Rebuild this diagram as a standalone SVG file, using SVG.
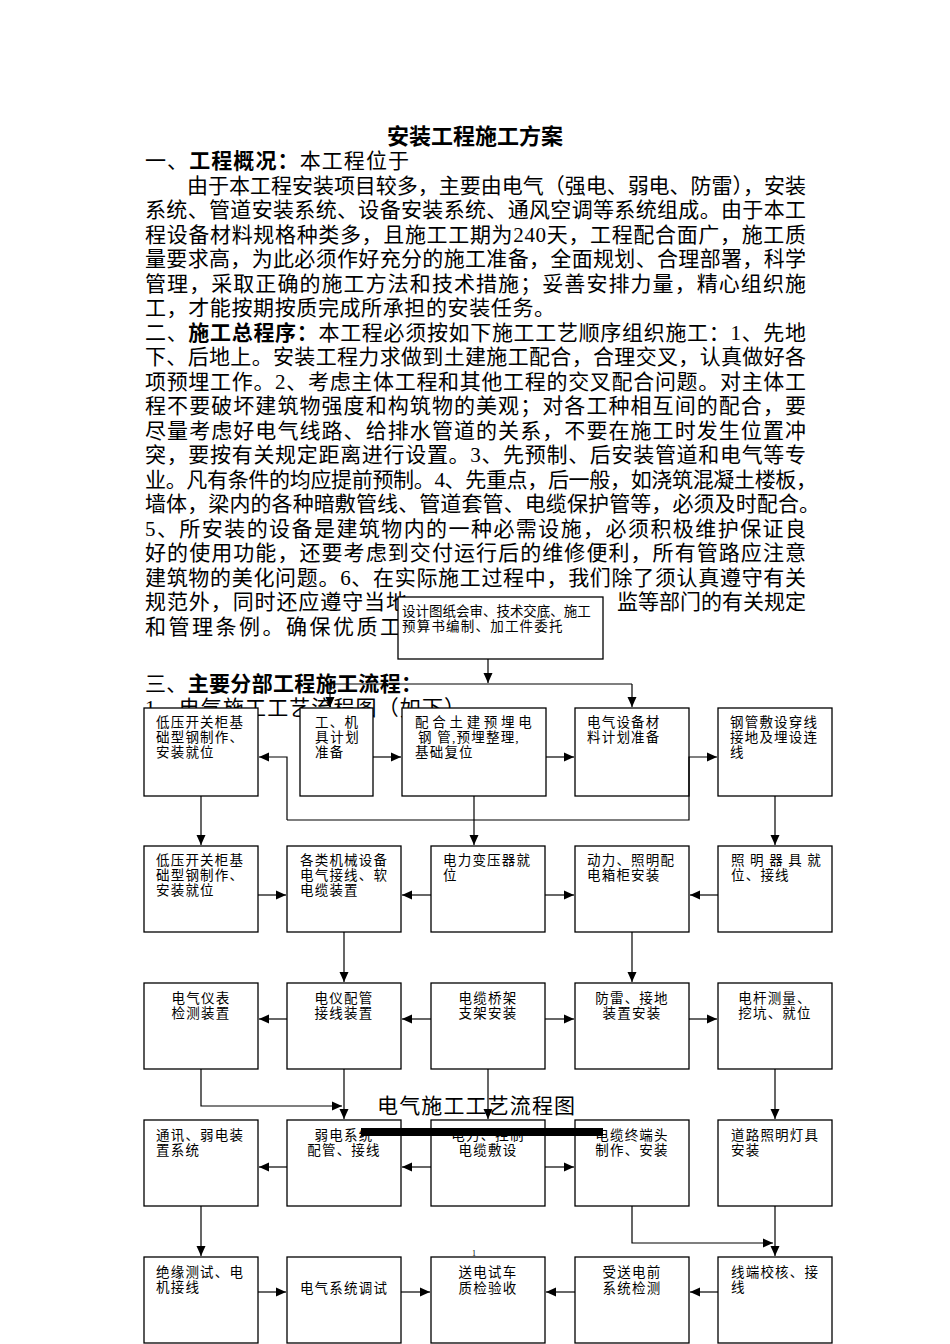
<svg xmlns="http://www.w3.org/2000/svg" width="950" height="1344" viewBox="0 0 950 1344">
<defs>
<style>
.body{font-family:"Liberation Serif","Noto Sans CJK SC",serif;font-size:21px;fill:#000}
.b{font-weight:bold}
.bx{fill:#fff;stroke:#000;stroke-width:1.3}
.t{font-family:"Liberation Serif","Noto Sans CJK SC",serif;font-size:13.5px;fill:#000;letter-spacing:1.2px}
.c{text-anchor:middle}
.ln{fill:none;stroke:#000;stroke-width:1.2}
</style>
<marker id="ah" markerUnits="userSpaceOnUse" markerWidth="10" markerHeight="10" viewBox="0 0 10 10" refX="10" refY="5" orient="auto">
<path d="M0,0.5 L10,5 L0,9.5 Z" fill="#000"/>
</marker>
</defs>
<rect width="950" height="1344" fill="#fff"/>

<g id="body-text" class="body">
<text x="475" y="144" text-anchor="middle" class="b" font-size="22">安装工程施工方案</text>
<text x="145" y="168" textLength="264">一、<tspan class="b">工程概况：</tspan>本工程位于</text>
<text x="187" y="193" textLength="619">由于本工程安装项目较多，主要由电气（强电、弱电、防雷），安装</text>
<text x="145" y="217" textLength="661">系统、管道安装系统、设备安装系统、通风空调等系统组成。由于本工</text>
<text x="145" y="242" textLength="661">程设备材料规格种类多，且施工工期为240天，工程配合面广，施工质</text>
<text x="145" y="266" textLength="661">量要求高，为此必须作好充分的施工准备，全面规划、合理部署，科学</text>
<text x="145" y="291" textLength="661">管理，采取正确的施工方法和技术措施；妥善安排力量，精心组织施</text>
<text x="145" y="315" textLength="410">工，才能按期按质完成所承担的安装任务。</text>
<text x="145" y="340" textLength="661">二、<tspan class="b">施工总程序：</tspan>本工程必须按如下施工工艺顺序组织施工：1、先地</text>
<text x="145" y="364" textLength="661">下、后地上。安装工程力求做到土建施工配合，合理交叉，认真做好各</text>
<text x="145" y="389" textLength="661">项预埋工作。2、考虑主体工程和其他工程的交叉配合问题。对主体工</text>
<text x="145" y="413" textLength="661">程不要破坏建筑物强度和构筑物的美观；对各工种相互间的配合，要</text>
<text x="145" y="438" textLength="661">尽量考虑好电气线路、给排水管道的关系，不要在施工时发生位置冲</text>
<text x="145" y="462" textLength="661">突，要按有关规定距离进行设置。3、先预制、后安装管道和电气等专</text>
<text x="145" y="487" textLength="672">业。凡有条件的均应提前预制。4、先重点，后一般，如浇筑混凝土楼板，</text>
<text x="145" y="511" textLength="675">墙体，梁内的各种暗敷管线、管道套管、电缆保护管等，必须及时配合。</text>
<text x="145" y="536" textLength="661">5、所安装的设备是建筑物内的一种必需设施，必须积极维护保证良</text>
<text x="145" y="560" textLength="661">好的使用功能，还要考虑到交付运行后的维修便利，所有管路应注意</text>
<text x="145" y="585" textLength="661">建筑物的美化问题。6、在实际施工过程中，我们除了须认真遵守有关</text>
<text x="145" y="609" textLength="262">规范外，同时还应遵守当地</text>
<text x="806" y="609" text-anchor="end">监等部门的有关规定</text>
<text x="145" y="634" textLength="256">和管理条例。确保优质工</text>
<text x="145" y="691" textLength="277">三、<tspan class="b">主要分部工程施工流程：</tspan></text>
<text x="145" y="715" textLength="320">1、电气施工工艺流程图（如下）</text>
</g>

<g id="n-top"><rect class="bx" x="398" y="597" width="205" height="62"/>
<text class="t" x="402" y="616" letter-spacing="0" font-size="13" textLength="190">设计图纸会审、技术交底、施工</text>
<text class="t" x="402" y="631" letter-spacing="0" font-size="13">预算书编制、加工件委托</text></g>

<!-- row 1 -->
<g id="n-a1"><rect class="bx" x="144" y="708" width="114" height="88"/>
<text class="t" x="156" y="727">低压开关柜基</text><text class="t" x="156" y="742">础型钢制作、</text><text class="t" x="156" y="757">安装就位</text></g>
<g id="n-a2"><rect class="bx" x="300" y="708" width="73" height="88"/>
<text class="t" x="315" y="727">工、机</text><text class="t" x="315" y="742" textLength="45">具计划</text><text class="t" x="315" y="757">准备</text></g>
<g id="n-a3"><rect class="bx" x="402" y="708" width="144" height="88"/>
<text class="t" x="415" y="727" textLength="118">配合土建预埋电</text><text class="t" x="418" y="742" letter-spacing="0">钢 管,预埋整理,</text><text class="t" x="415" y="757">基础复位</text></g>
<g id="n-a4"><rect class="bx" x="575" y="708" width="114" height="88"/>
<text class="t" x="587" y="727">电气设备材</text><text class="t" x="587" y="742">料计划准备</text></g>
<g id="n-a5"><rect class="bx" x="718" y="708" width="114" height="88"/>
<text class="t" x="730" y="727">钢管敷设穿线</text><text class="t" x="730" y="742">接地及埋设连</text><text class="t" x="730" y="757">线</text></g>

<!-- row 2 -->
<g id="n-b1"><rect class="bx" x="144" y="846" width="114" height="86"/>
<text class="t" x="156" y="865">低压开关柜基</text><text class="t" x="156" y="880">础型钢制作、</text><text class="t" x="156" y="895">安装就位</text></g>
<g id="n-b2"><rect class="bx" x="287" y="846" width="114" height="86"/>
<text class="t" x="300" y="865">各类机械设备</text><text class="t" x="300" y="880">电气接线、软</text><text class="t" x="300" y="895">电缆装置</text></g>
<g id="n-b3"><rect class="bx" x="431" y="846" width="114" height="86"/>
<text class="t" x="443" y="865">电力变压器就</text><text class="t" x="443" y="880">位</text></g>
<g id="n-b4"><rect class="bx" x="575" y="846" width="114" height="86"/>
<text class="t" x="587" y="865">动力、照明配</text><text class="t" x="587" y="880">电箱柜安装</text></g>
<g id="n-b5"><rect class="bx" x="718" y="846" width="114" height="86"/>
<text class="t" x="731" y="865" textLength="91">照明器具就</text><text class="t" x="731" y="880">位、接线</text></g>

<!-- row 3 -->
<g id="n-c1"><rect class="bx" x="144" y="983" width="114" height="86"/>
<text class="t c" x="201" y="1003">电气仪表</text><text class="t c" x="201" y="1018">检测装置</text></g>
<g id="n-c2"><rect class="bx" x="287" y="983" width="114" height="86"/>
<text class="t c" x="344" y="1003">电仪配管</text><text class="t c" x="344" y="1018">接线装置</text></g>
<g id="n-c3"><rect class="bx" x="431" y="983" width="114" height="86"/>
<text class="t c" x="488" y="1003">电缆桥架</text><text class="t c" x="488" y="1018">支架安装</text></g>
<g id="n-c4"><rect class="bx" x="575" y="983" width="114" height="86"/>
<text class="t c" x="632" y="1003">防雷、接地</text><text class="t c" x="632" y="1018">装置安装</text></g>
<g id="n-c5"><rect class="bx" x="718" y="983" width="114" height="86"/>
<text class="t c" x="775" y="1003">电杆测量、</text><text class="t c" x="775" y="1018">挖坑、就位</text></g>

<!-- row 4 -->
<g id="n-d1"><rect class="bx" x="144" y="1120" width="114" height="86"/>
<text class="t" x="156" y="1140">通讯、弱电装</text><text class="t" x="156" y="1155">置系统</text></g>
<g id="n-d2"><rect class="bx" x="287" y="1120" width="114" height="86"/>
<text class="t c" x="344" y="1140">弱电系统</text><text class="t c" x="344" y="1155">配管、接线</text></g>
<g id="n-d3"><rect class="bx" x="431" y="1120" width="114" height="86"/>
<text class="t c" x="488" y="1140">电力、控制</text><text class="t c" x="488" y="1155">电缆敷设</text></g>
<g id="n-d4"><rect class="bx" x="575" y="1120" width="114" height="86"/>
<text class="t c" x="632" y="1140">电缆终端头</text><text class="t c" x="632" y="1155">制作、安装</text></g>
<g id="n-d5"><rect class="bx" x="718" y="1120" width="114" height="86"/>
<text class="t" x="731" y="1140">道路照明灯具</text><text class="t" x="731" y="1155">安装</text></g>

<!-- row 5 -->
<g id="n-e1"><rect class="bx" x="144" y="1257" width="114" height="86"/>
<text class="t" x="156" y="1277">绝缘测试、电</text><text class="t" x="156" y="1292">机接线</text></g>
<g id="n-e2"><rect class="bx" x="287" y="1257" width="114" height="86"/>
<text class="t c" x="344" y="1293">电气系统调试</text></g>
<g id="n-e3"><rect class="bx" x="431" y="1257" width="114" height="86"/>
<text class="t c" x="488" y="1277">送电试车</text><text class="t c" x="488" y="1293">质检验收</text></g>
<g id="n-e4"><rect class="bx" x="575" y="1257" width="114" height="86"/>
<text class="t c" x="632" y="1277">受送电前</text><text class="t c" x="632" y="1293">系统检测</text></g>
<g id="n-e5"><rect class="bx" x="718" y="1257" width="114" height="86"/>
<text class="t" x="731" y="1277">线端校核、接</text><text class="t" x="731" y="1292">线</text></g>

<text id="caption" x="377" y="1113" font-family="Liberation Serif, Noto Sans CJK SC, serif" font-size="21" textLength="198">电气施工工艺流程图</text>
<text id="pagenum" x="474" y="1256" font-family="Liberation Serif, serif" font-size="8" text-anchor="middle">1</text>

<g id="connectors" class="ln">
<path d="M488,659 V683" marker-end="url(#ah)"/>
<path d="M330,684 H632"/>
<path d="M330,684 V707" marker-end="url(#ah)"/>
<path d="M632,684 V707" marker-end="url(#ah)"/>
<path d="M373,757 H401" marker-end="url(#ah)"/>
<path d="M546,757 H574" marker-end="url(#ah)"/>
<path d="M287,820 V757 H259" marker-end="url(#ah)"/>
<path d="M287,820 H689 V757 H717" marker-end="url(#ah)"/>
<path d="M201,796 V845" marker-end="url(#ah)"/>
<path d="M474,796 V845" marker-end="url(#ah)"/>
<path d="M775,796 V845" marker-end="url(#ah)"/>
<path d="M258,895 H286" marker-end="url(#ah)"/>
<path d="M431,895 H402" marker-end="url(#ah)"/>
<path d="M545,895 H574" marker-end="url(#ah)"/>
<path d="M718,895 H690" marker-end="url(#ah)"/>
<path d="M344,932 V982" marker-end="url(#ah)"/>
<path d="M632,932 V982" marker-end="url(#ah)"/>
<path d="M287,1019 H259" marker-end="url(#ah)"/>
<path d="M431,1019 H402" marker-end="url(#ah)"/>
<path d="M545,1019 H574" marker-end="url(#ah)"/>
<path d="M689,1019 H717" marker-end="url(#ah)"/>
<path d="M201,1069 V1106 H342" marker-end="url(#ah)"/>
<path d="M344,1069 V1119" marker-end="url(#ah)"/>
<path d="M488,1069 V1119" marker-end="url(#ah)"/>
<path d="M775,1069 V1119" marker-end="url(#ah)"/>
<path d="M287,1167 H259" marker-end="url(#ah)"/>
<path d="M431,1167 H402" marker-end="url(#ah)"/>
<path d="M545,1167 H574" marker-end="url(#ah)"/>
<path d="M201,1206 V1256" marker-end="url(#ah)"/>
<path d="M632,1206 V1243 H773" marker-end="url(#ah)"/>
<path d="M775,1206 V1256" marker-end="url(#ah)"/>
<path d="M258,1292 H286" marker-end="url(#ah)"/>
<path d="M401,1292 H430" marker-end="url(#ah)"/>
<path d="M575,1292 H546" marker-end="url(#ah)"/>
<path d="M718,1292 H690" marker-end="url(#ah)"/>
</g>
<rect id="black-bar" x="361" y="1128" width="242" height="8" fill="#000"/>
</svg>
